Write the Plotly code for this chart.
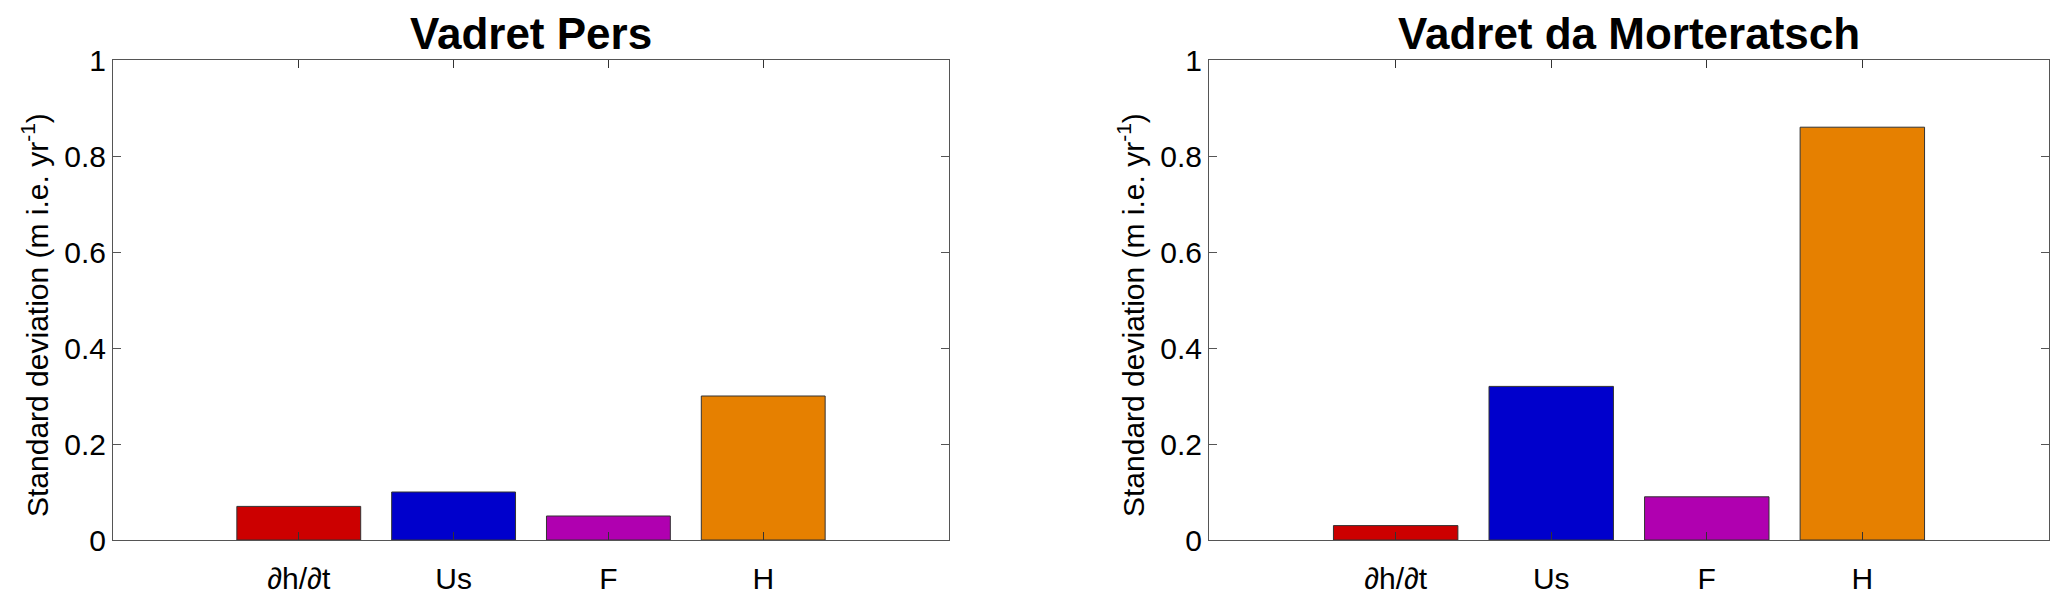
import plotly.graph_objects as go
from plotly.subplots import make_subplots

categories = ["∂h/∂t", "Us", "F", "H"]
pers_values = [0.07, 0.10, 0.05, 0.30]
morteratsch_values = [0.03, 0.32, 0.09, 0.86]
bar_colors = ["#CC0000", "#0000CC", "#B000B0", "#E68000"]
titles = ["Vadret Pers", "Vadret da Morteratsch"]
ytick_vals = [0, 0.2, 0.4, 0.6, 0.8, 1.0]
ytick_text = ["0", "0.2", "0.4", "0.6", "0.8", "1"]

# page has an 8px body margin; the figure is sized/placed to compensate
OFF = 8
W, H = 2067 - OFF, 596 - OFF
fig = make_subplots(rows=1, cols=2)

font = "Liberation Sans, Arial, Helvetica, sans-serif"

for i, vals in enumerate([pers_values, morteratsch_values]):
    fig.add_trace(go.Bar(x=categories, y=vals, width=0.8,
                         marker=dict(color=bar_colors, line=dict(color="#333333", width=1)),
                         showlegend=False), row=1, col=i + 1)

ydom = [1 - (540 - OFF) / H, 1 - (60 - OFF) / H]
xdoms = [[(113 - OFF) / W, (949 - OFF) / W], [(1209 - OFF) / W, (2049 - OFF) / W]]
for i in range(2):
    ax = "" if i == 0 else str(i + 1)
    fig.layout["xaxis" + ax].update(
        domain=xdoms[i], range=[-1.2, 4.2], showline=True, linecolor="#555555", linewidth=1,
        mirror="ticks", ticks="inside", ticklen=8, tickcolor="#333333", showgrid=False,
        ticklabelstandoff=12, automargin=False,
        tickfont=dict(family=font, size=30, color="black"), zeroline=False, fixedrange=True)
    fig.layout["yaxis" + ax].update(
        domain=ydom, range=[0, 1], showline=True, linecolor="#555555", linewidth=1,
        mirror="ticks", ticks="inside", ticklen=8, tickcolor="#555555", showgrid=False,
        tickvals=ytick_vals, ticktext=ytick_text, automargin=False,
        tickfont=dict(family=font, size=30, color="black"), zeroline=False)
    xc = (xdoms[i][0] + xdoms[i][1]) / 2
    fig.add_annotation(text="<b>" + titles[i] + "</b>", xref="paper", yref="paper",
                       x=xc, y=1, xanchor="center", yanchor="top", showarrow=False,
                       borderpad=0,
                       font=dict(family=font, size=44, color="black"))
    fig.add_annotation(text="Standard deviation (m i.e. yr<sup>-1</sup>)", xref="paper", yref="paper",
                       x=(xdoms[i][0] * W - 78) / W, y=1 - (315 - OFF) / H, textangle=-90,
                       xanchor="center", yanchor="middle", showarrow=False,
                       font=dict(family=font, size=30, color="black"))

fig.update_layout(width=W, height=H, margin=dict(l=0, r=0, t=0, b=0, autoexpand=False),
                  plot_bgcolor="white", paper_bgcolor="white", bargap=0.2)
fig.write_html("out.html")
